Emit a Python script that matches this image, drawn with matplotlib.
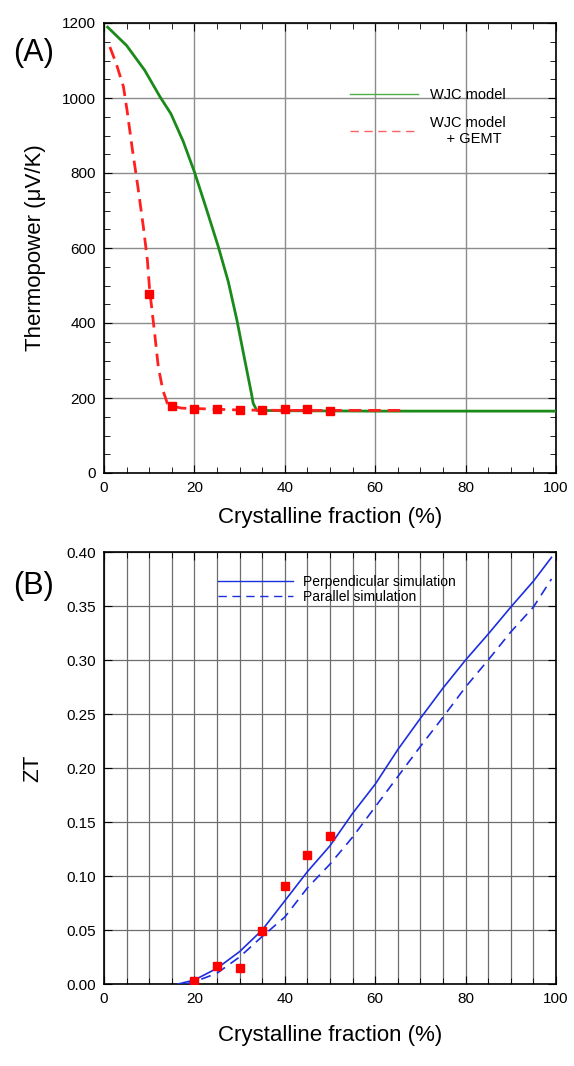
import matplotlib
matplotlib.use("Agg")
import matplotlib.pyplot as plt
from matplotlib.ticker import MultipleLocator, FormatStrFormatter
from matplotlib.lines import Line2D

plt.rcParams['font.family'] = ['Liberation Sans', 'DejaVu Sans']

# panel A: thermopower
wjc_x = [0.8, 5, 9, 12.4, 14.8, 17.5, 20, 22.5, 25.3, 27.5, 29.4, 31, 32.6, 33, 33.8, 40, 60, 80, 100]
wjc_y = [1189, 1140, 1074, 1003, 958, 885, 803, 710, 603, 510, 408, 310, 213, 186, 167, 166, 165, 165, 165]
gemt_x = [1.3, 2.7, 4.3, 5.1, 6.3, 7.5, 8.7, 9.6, 10.1, 11.2, 12, 13, 14, 15.2, 17.2, 20, 30, 40, 50, 66.6]
gemt_y = [1136, 1092, 1030, 967, 861, 763, 657, 568, 488, 373, 284, 222, 186, 178, 173, 172, 168, 167, 167, 167]
meas_a_x = [10, 15, 20, 25, 30, 35, 40, 45, 50]
meas_a_y = [477, 179, 172, 170, 169, 167, 170, 170, 165]

# panel B: ZT
perp_x = [16.4, 20, 25, 30, 35, 40, 45, 50, 55, 60, 65, 70, 75, 80, 85, 90, 95, 99]
perp_y = [0.0, 0.0037, 0.0145, 0.030, 0.050, 0.077, 0.104, 0.128, 0.158, 0.185, 0.217, 0.246, 0.274, 0.300, 0.324, 0.349, 0.373, 0.395]
par_x = [18, 20, 25, 30, 35, 40, 45, 50, 55, 60, 65, 70, 75, 80, 85, 90, 95, 99]
par_y = [0.0, 0.002, 0.010, 0.025, 0.044, 0.062, 0.089, 0.111, 0.136, 0.164, 0.192, 0.220, 0.247, 0.275, 0.300, 0.326, 0.349, 0.375]
meas_b_x = [20, 25, 30, 35, 40, 45, 50]
meas_b_y = [0.0028, 0.0163, 0.0148, 0.049, 0.0907, 0.119, 0.137]

fig = plt.figure(figsize=(5.74, 10.66), dpi=100)
ax1 = fig.add_axes([104 / 574, 1 - 473 / 1066, 452 / 574, 450 / 1066])
ax2 = fig.add_axes([104 / 574, 1 - 984 / 1066, 452 / 574, 432 / 1066])

# --- panel A
ax1.plot(wjc_x, wjc_y, color='#1a8a1a', lw=2.0, zorder=3)
ax1.plot(gemt_x, gemt_y, color='#ff2020', lw=2.0, ls=(0, (4.5, 2.5)), zorder=3)
ax1.plot(meas_a_x, meas_a_y, 's', color='red', ms=6, ls='none', zorder=4)
ax1.set_xlim(0, 100)
ax1.set_ylim(0, 1200)
ax1.xaxis.set_major_locator(MultipleLocator(20))
ax1.xaxis.set_minor_locator(MultipleLocator(5))
ax1.yaxis.set_major_locator(MultipleLocator(200))
ax1.yaxis.set_minor_locator(MultipleLocator(50))
ax1.grid(True, which='major', color='#8c8c8c', linewidth=1.0)
ax1.set_xlabel('Crystalline fraction (%)', fontsize=16)
ax1.xaxis.set_label_coords(0.5, -0.075)
ax1.set_ylabel('Thermopower (\u03bcV/K)', fontsize=16)
ax1.yaxis.set_label_coords(-0.128, 0.5)
ax1.text(-0.155, 0.933, '(A)', transform=ax1.transAxes, fontsize=22, ha='center', va='center')
h1 = [Line2D([], [], color='#4caf4c', lw=1.0),
      Line2D([], [], color='#ff6060', lw=1.0, ls=(0, (6, 4)))]
ax1.legend(h1, ['WJC model', 'WJC model\n    + GEMT'], loc='upper left',
           bbox_to_anchor=(0.515, 0.885), frameon=False, fontsize=10.5,
           handlelength=4.7, labelspacing=0.95, handletextpad=0.8)

# --- panel B
ax2.plot(perp_x, perp_y, color='#1c2ee0', lw=1.2, zorder=3)
ax2.plot(par_x, par_y, color='#1c2ee0', lw=1.2, ls=(0, (6, 4)), zorder=3)
ax2.plot(meas_b_x, meas_b_y, 's', color='red', ms=6, ls='none', zorder=4)
ax2.set_xlim(0, 100)
ax2.set_ylim(0, 0.40)
ax2.xaxis.set_major_locator(MultipleLocator(20))
ax2.xaxis.set_minor_locator(MultipleLocator(5))
ax2.yaxis.set_major_locator(MultipleLocator(0.05))
ax2.yaxis.set_major_formatter(FormatStrFormatter('%.2f'))
ax2.grid(True, which='both', color='#6e6e6e', linewidth=0.9)
ax2.set_xlabel('Crystalline fraction (%)', fontsize=16)
ax2.xaxis.set_label_coords(0.5, -0.095)
ax2.set_ylabel('ZT', fontsize=16)
ax2.yaxis.set_label_coords(-0.135, 0.5)
ax2.text(-0.155, 0.921, '(B)', transform=ax2.transAxes, fontsize=22, ha='center', va='center')
h2 = [Line2D([], [], color='#1c2ee0', lw=1.0),
      Line2D([], [], color='#1c2ee0', lw=1.0, ls=(0, (6, 4)))]
ax2.legend(h2, ['Perpendicular simulation', 'Parallel simulation'], loc='upper left',
           bbox_to_anchor=(0.225, 0.975), frameon=False, fontsize=10,
           handlelength=5.4, labelspacing=0.05, handletextpad=0.7)

for ax in (ax1, ax2):
    ax.tick_params(which='both', direction='in', top=True, right=True, labelsize=11, pad=6)
    ax.tick_params(which='major', length=6)
    ax.tick_params(which='minor', length=4)
    for s in ax.spines.values():
        s.set_linewidth(1.2)
    ax.set_axisbelow(True)

fig.savefig('out.png', dpi=100)
